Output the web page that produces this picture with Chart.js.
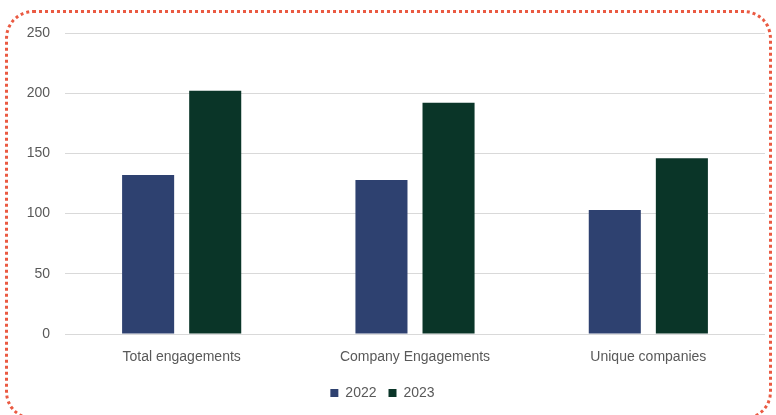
<!DOCTYPE html>
<html>
<head>
<meta charset="utf-8">
<script src="https://cdn.jsdelivr.net/npm/chart.js@4"></script>
<style>
  html, body { margin: 0; padding: 0; background: #fff; }
  #wrap { position: relative; width: 776px; height: 415px; overflow: hidden; }
  #frame { position: absolute; left: 5px; top: 10px; width: 767px; height: 410px;
           border: 3px dotted #EA5A42; border-radius: 28px; box-sizing: border-box; pointer-events: none; }
  canvas { position: absolute; left: 0; top: 0; }
</style>
</head>
<body>
<div id="wrap">
  <canvas id="c" width="776" height="415"></canvas>
  <div id="frame"></div>
</div>
<script>
const categories = ["Total engagements", "Company Engagements", "Unique companies"];
const values2022 = [132, 128, 103];
const values2023 = [202, 192, 146];
const seriesLabels = ["2022", "2023"];
const yTicks = [0, 50, 100, 150, 200, 250];

const font = { family: "'Liberation Sans', Arial, sans-serif", size: 14 };

new Chart(document.getElementById('c'), {
  type: 'bar',
  data: {
    labels: categories,
    datasets: [
      { label: seriesLabels[0], data: values2022, backgroundColor: '#2E4170',
        categoryPercentage: 0.575, barPercentage: 0.776 },
      { label: seriesLabels[1], data: values2023, backgroundColor: '#0A3528',
        categoryPercentage: 0.575, barPercentage: 0.776 }
    ]
  },
  options: {
    responsive: false,
    animation: false,
    devicePixelRatio: 1,
    layout: { padding: { left: 0, right: 11, top: 33, bottom: 5 } },
    plugins: {
      legend: {
        position: 'bottom',
        labels: { boxWidth: 8, boxHeight: 8, color: '#595959', font: font, padding: 12 }
      },
      tooltip: { enabled: false }
    },
    scales: {
      x: {
        grid: { display: false, drawTicks: false },
        border: { display: false },
        ticks: { color: '#595959', font: font, padding: 15 },
        afterFit: s => { s.height = 40; }
      },
      y: {
        min: 0, max: 250,
        afterBuildTicks: s => { s.ticks = yTicks.map(v => ({ value: v })); },
        grid: { color: '#D9D9D9', lineWidth: 1, drawTicks: false },
        border: { display: false },
        ticks: { color: '#595959', font: font, padding: 15 },
        afterFit: s => { s.width = 65; }
      }
    }
  }
});
</script>
</body>
</html>
